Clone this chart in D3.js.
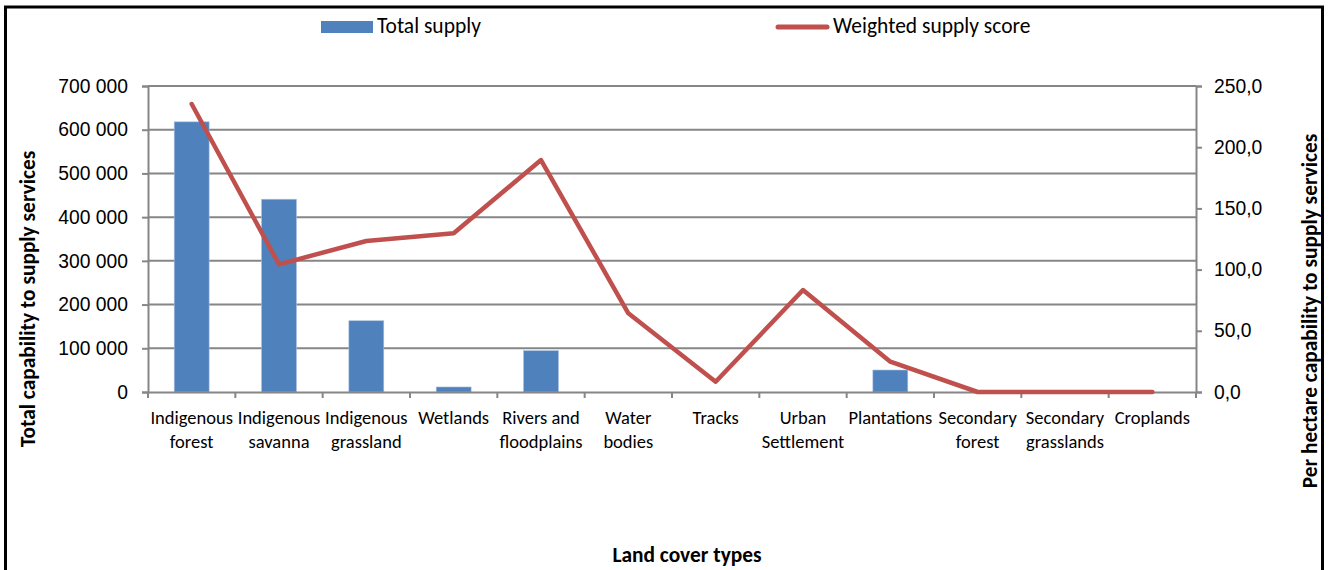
<!DOCTYPE html>
<html><head><meta charset="utf-8">
<script src="https://cdn.jsdelivr.net/npm/d3@7/dist/d3.min.js"></script>
<style>
body{margin:0;background:#fff;}
svg{display:block;font-family:Carlito,Calibri,Lato,"Liberation Sans",sans-serif;}
</style></head><body>
<svg id="c" width="1329" height="570"></svg>
<script>
const categories = [["Indigenous","forest"],["Indigenous","savanna"],["Indigenous","grassland"],["Wetlands"],["Rivers and","floodplains"],["Water","bodies"],["Tracks"],["Urban","Settlement"],["Plantations"],["Secondary","forest"],["Secondary","grasslands"],["Croplands"]];
const totalSupply = [618000, 441000, 163000, 11500, 94500, 0, 0, 0, 50300, 0, 0, 0];
const weightedScore = [235.3, 104.3, 123.4, 129.7, 189.5, 64.3, 8.4, 83.3, 24.8, 0, 0, 0];
const leftTicks = [0,100000,200000,300000,400000,500000,600000,700000];
const rightTicks = [0,50,100,150,200,250];

const svg = d3.select("#c");
svg.append("rect").attr("x",5.5).attr("y",7).attr("width",1317).attr("height",580)
  .attr("fill","#fff").attr("stroke","#000").attr("stroke-width",3);

const x0=148,x1=1196,yTop=86,yBot=392;
const ids = categories.map((d,i)=>i);
const x = d3.scaleBand().domain(ids).range([x0,x1]).paddingInner(0).paddingOuter(0);
const yL = d3.scaleLinear().domain([0,700000]).range([yBot,yTop]);
const yR = d3.scaleLinear().domain([0,250]).range([yBot,yTop]);

const grid="#868686";
svg.append("g").selectAll("line").data(leftTicks.slice(1)).join("line")
  .attr("x1",x0).attr("x2",x1).attr("y1",d=>yL(d)).attr("y2",d=>yL(d))
  .attr("stroke",grid).attr("stroke-width",2);

const bw = x.bandwidth()*0.4;
svg.append("g").selectAll("rect").data(totalSupply).join("rect")
  .attr("x",(d,i)=>x(i)+x.bandwidth()/2-bw/2).attr("width",bw)
  .attr("y",d=>yL(d)).attr("height",d=>yBot-yL(d))
  .attr("fill","#4F81BD").attr("stroke","#a9c1e0").attr("stroke-width",0.6);

const fmt = d=> d===0?"0":d3.format(",")(d).replace(/,/g," ");
const gL = svg.append("g").attr("transform",`translate(${x0},0)`)
  .call(d3.axisLeft(yL).tickValues(leftTicks).tickFormat(fmt).tickSize(6).tickPadding(14));
const gR = svg.append("g").attr("transform",`translate(${x1},0)`)
  .call(d3.axisRight(yR).tickValues(rightTicks).tickFormat(d=>d3.format(".1f")(d).replace(".",",")).tickSize(6).tickPadding(12));
const gB = svg.append("g").attr("transform",`translate(0,${yBot})`)
  .call(d3.axisBottom(x).tickSize(0).tickFormat(""));
[gL,gR,gB].forEach(g=>{
  g.select(".domain").attr("stroke",grid).attr("stroke-width",2);
  g.selectAll(".tick line").attr("stroke",grid).attr("stroke-width",2);
  g.selectAll("text").attr("font-size",19.3).attr("fill","#000").attr("font-family",null);
});
svg.append("g").selectAll("line").data(d3.range(categories.length+1)).join("line")
  .attr("x1",d=>x0+d*x.bandwidth()).attr("x2",d=>x0+d*x.bandwidth())
  .attr("y1",yBot).attr("y2",yBot+6).attr("stroke",grid).attr("stroke-width",2);

const cl = svg.append("g").selectAll("text").data(categories).join("text")
  .attr("text-anchor","middle").attr("font-size",18.5).attr("fill","#000")
  .attr("transform",(d,i)=>`translate(${x(i)+x.bandwidth()/2},424)`);
cl.selectAll("tspan").data(d=>d).join("tspan").attr("x",0).attr("dy",(d,j)=>j===0?0:23.5).text(d=>d);

const line = d3.line().x((d,i)=>x(i)+x.bandwidth()/2).y(d=>yR(d));
svg.append("path").datum(weightedScore).attr("d",line).attr("fill","none")
  .attr("stroke","#C0504D").attr("stroke-width",4.5).attr("stroke-linejoin","round").attr("stroke-linecap","round");

svg.append("text").attr("transform","translate(35,299) rotate(-90)").attr("text-anchor","middle")
  .attr("font-size",21.4).attr("font-weight","bold").text("Total capability to supply services");
svg.append("text").attr("transform","translate(1317,311) rotate(-90)").attr("text-anchor","middle")
  .attr("font-size",21.4).attr("font-weight","bold").text("Per hectare capability to supply services");
svg.append("text").attr("x",687).attr("y",562).attr("text-anchor","middle")
  .attr("font-size",21.4).attr("font-weight","bold").text("Land cover types");

svg.append("rect").attr("x",321).attr("y",21).attr("width",52).attr("height",12).attr("fill","#4F81BD");
svg.append("text").attr("x",377).attr("y",33).attr("font-size",21.5).text("Total supply");
svg.append("line").attr("x1",778).attr("x2",827).attr("y1",27).attr("y2",27)
  .attr("stroke","#C0504D").attr("stroke-width",5).attr("stroke-linecap","round");
svg.append("text").attr("x",833).attr("y",33).attr("font-size",21.5).text("Weighted supply score");
</script></body></html>
